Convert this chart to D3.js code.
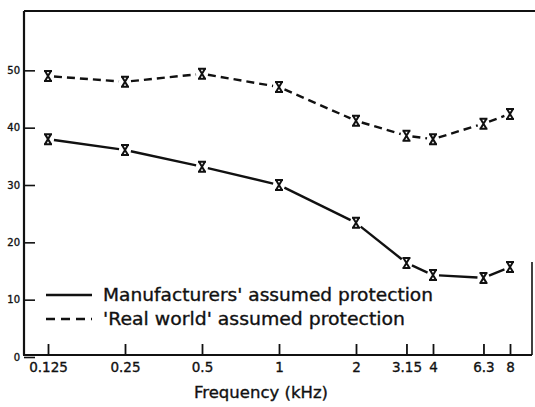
<!DOCTYPE html>
<html>
<head>
<meta charset="utf-8">
<script src="https://cdn.jsdelivr.net/npm/d3@7"></script>
<style>
  html, body { margin: 0; padding: 0; background: #fff; }
  svg { display: block; }
  text { font-family: "DejaVu Sans", sans-serif; fill: #111; stroke: #111; stroke-width: 0.35px; }
</style>
</head>
<body>
<svg id="chart" width="535" height="407"></svg>
<script>
// Octave-band frequencies (kHz) and their axis labels
const freqs = [0.125, 0.25, 0.5, 1, 2, 3.15, 4, 6.3, 8];
const freqLabels = ["0.125", "0.25", "0.5", "1", "2", "3.15", "4", "6.3", "8"];

// Assumed protection (dB) per frequency
const manufacturers = [38.0, 36.1, 33.2, 30.0, 23.4, 16.4, 14.3, 13.8, 15.7];
const realWorld = [49.0, 48.0, 49.4, 47.1, 41.2, 38.6, 38.0, 40.7, 42.4];

const yTicks = [0, 10, 20, 30, 40, 50];
const seriesNames = ["Manufacturers' assumed protection", "'Real world' assumed protection"];

const svg = d3.select("#chart");
const ink = "#111";

const x = d3.scaleLog().domain([0.125, 8]).range([48, 510]);
const y = d3.scaleLinear().domain([0, 60]).range([357, 13]);

const axisX = 24, baseY = 355, topY = 11, rightX = 532;

// Frame: left axis, top border, bottom axis, short right edge
const frame = svg.append("g").attr("stroke", ink).attr("fill", "none");
frame.append("line").attr("x1", axisX).attr("x2", axisX).attr("y1", topY).attr("y2", baseY).attr("stroke-width", 2.2);
frame.append("line").attr("x1", axisX).attr("x2", 535).attr("y1", topY).attr("y2", topY).attr("stroke-width", 2.2);
frame.append("line").attr("x1", axisX - 1).attr("x2", rightX).attr("y1", baseY).attr("y2", baseY).attr("stroke-width", 2.2);
frame.append("line").attr("x1", rightX).attr("x2", rightX).attr("y1", 262).attr("y2", baseY).attr("stroke-width", 1.6);

// Left axis: inward ticks, small labels in the narrow margin
const gy = svg.append("g")
  .attr("transform", `translate(${axisX},0)`)
  .call(d3.axisLeft(y).tickValues(yTicks).tickSize(-11).tickPadding(4).tickFormat(d3.format("d")));
gy.select(".domain").remove();
gy.selectAll(".tick line").attr("stroke", ink).attr("stroke-width", 1.6);
gy.selectAll(".tick text").attr("font-size", 10).attr("fill", ink);

// Bottom axis: upward ticks at each band
const gx = svg.append("g")
  .attr("transform", `translate(0,${baseY})`)
  .call(d3.axisBottom(x).tickValues(freqs).tickSize(-11).tickPadding(7)
    .tickFormat((d, i) => freqLabels[i]));
gx.select(".domain").remove();
gx.selectAll(".tick line").attr("stroke", ink).attr("stroke-width", 1.8);
gx.selectAll(".tick text").attr("font-size", 13.5).attr("fill", ink);

svg.append("text")
  .attr("x", 261).attr("y", 398).attr("text-anchor", "middle")
  .attr("font-size", 16.5).text("Frequency (kHz)");

// Curves: segments stop short of each marker
const gap = 6;
function drawSeries(values, dash) {
  const pts = freqs.map((f, i) => [x(f), y(values[i])]);
  const g = svg.append("g");
  const segs = d3.pairs(pts).map(([a, b]) => {
    const dx = b[0] - a[0], dy = b[1] - a[1];
    const len = Math.hypot(dx, dy);
    const ux = dx / len, uy = dy / len;
    return [[a[0] + ux * gap, a[1] + uy * gap], [b[0] - ux * gap, b[1] - uy * gap]];
  });
  g.selectAll("path.seg").data(segs).join("path")
    .attr("class", "seg")
    .attr("d", d3.line())
    .attr("fill", "none").attr("stroke", ink).attr("stroke-width", 2.4)
    .attr("stroke-dasharray", dash);
  g.selectAll("path.mk").data(pts).join("path")
    .attr("class", "mk")
    .attr("transform", d => `translate(${d[0]},${d[1]})`)
    .attr("d", "M-4,-5H4M-4,5H4M-3,-5L3,5M3,-5L-3,5")
    .attr("fill", "none").attr("stroke", ink).attr("stroke-width", 2);
}
drawSeries(manufacturers, null);
drawSeries(realWorld, "8,5");

// Legend
const legend = svg.append("g");
const legendRows = [
  { name: seriesNames[0], dash: null, yy: 295, len: 330 },
  { name: seriesNames[1], dash: "9,6", yy: 319, len: 302 }
];
legendRows.forEach(r => {
  legend.append("line")
    .attr("x1", 46).attr("x2", 92).attr("y1", r.yy).attr("y2", r.yy)
    .attr("stroke", ink).attr("stroke-width", 2.4)
    .attr("stroke-dasharray", r.dash);
  legend.append("text")
    .attr("x", 103).attr("y", r.yy).attr("dy", "0.36em")
    .attr("font-size", 18)
    .attr("textLength", r.len).attr("lengthAdjust", "spacingAndGlyphs")
    .text(r.name);
});
</script>
</body>
</html>
